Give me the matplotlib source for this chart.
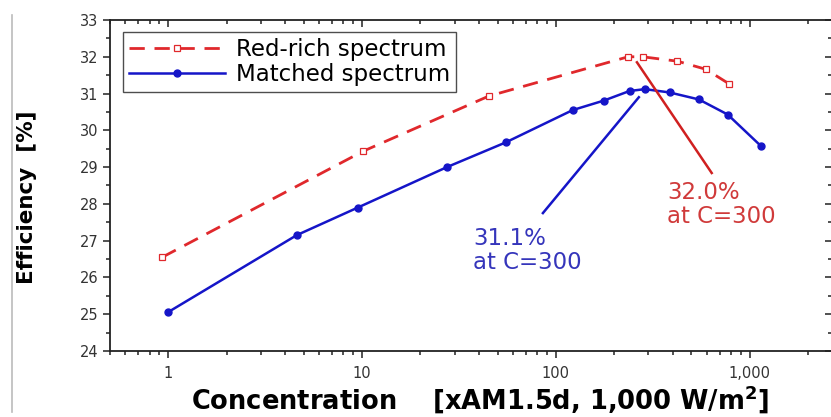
import matplotlib
matplotlib.use("Agg")
import matplotlib.pyplot as plt
from matplotlib.ticker import FixedLocator, FixedFormatter, LogLocator, NullFormatter, MultipleLocator
from matplotlib.lines import Line2D

# Data
red_x = [0.93, 10.1, 45, 236, 280, 424, 594, 780]
red_y = [26.55, 29.43, 30.93, 32.0, 32.0, 31.88, 31.66, 31.27]
blue_x = [1.0, 4.6, 9.5, 27.4, 55, 122, 177, 240, 288, 386, 547, 770, 1140]
blue_y = [25.06, 27.15, 27.9, 29.0, 29.67, 30.55, 30.81, 31.07, 31.12, 31.03, 30.84, 30.43, 29.58]
x_ticks = [1, 10, 100, 1000]
x_tick_labels = ["1", "10", "100", "1,000"]
y_ticks = [24, 25, 26, 27, 28, 29, 30, 31, 32, 33]
red_label = "Red-rich spectrum"
blue_label = "Matched spectrum"
red_note = "32.0%\nat C=300"
blue_note = "31.1%\nat C=300"
red_leader_x = [262, 637]
red_leader_y = [31.85, 28.84]
blue_leader_x = [268, 85.7]
blue_leader_y = [30.90, 27.75]

plt.rcParams['font.family'] = ['DejaVu Sans']
fig = plt.figure(figsize=(8.31, 4.17), dpi=100)
ax = fig.add_axes([110/831, 1-351/417, 722/831, 331/417])

ax.plot(red_x, red_y, color='#e0282c', lw=2.0, dashes=(5.5, 3.5),
        marker='s', ms=4.5, mfc='white', mec='#e0282c', mew=0.9, label=red_label)
ax.plot(blue_x, blue_y, color='#1515c8', lw=1.8, marker='o', ms=5,
        mfc='#1515c8', mec='#1515c8', label=blue_label)

ax.set_xscale('log')
ax.set_xlim(0.5, 2660)
ax.set_ylim(24, 33)
ax.xaxis.set_major_locator(FixedLocator(x_ticks))
ax.xaxis.set_major_formatter(FixedFormatter(x_tick_labels))
ax.xaxis.set_minor_locator(LogLocator(base=10, subs=range(2, 10)))
ax.xaxis.set_minor_formatter(NullFormatter())
ax.yaxis.set_major_locator(FixedLocator(y_ticks))
ax.yaxis.set_minor_locator(MultipleLocator(0.5))

ax.tick_params(which='both', top=True, right=True, labelsize=10.5, color='#222222', labelcolor='#333333')
ax.tick_params(which='major', length=5, width=1.1)
ax.tick_params(which='minor', length=3, width=1.1)
ax.tick_params(axis='x', which='both', direction='out', pad=6)
ax.tick_params(axis='y', which='both', direction='out')
# top and right ticks point inward
for t in ax.xaxis.get_major_ticks() + ax.xaxis.get_minor_ticks():
    t.tick2line.set_marker(3)  # TICKDOWN
for t in ax.yaxis.get_major_ticks() + ax.yaxis.get_minor_ticks():
    t.tick2line.set_marker(0)  # TICKLEFT
for s in ax.spines.values():
    s.set_linewidth(1.3)
    s.set_color('#222222')

ax.set_ylabel("Efficiency  [%]", fontsize=15.5, fontweight='bold')
ax.yaxis.set_label_coords(-0.101, 0.465)
ax.set_xlabel("Concentration    [xAM1.5d, 1,000 W/m$^\\mathbf{2}$]", fontsize=18.5, fontweight='bold')
ax.xaxis.set_label_coords(0.512, -0.1)

leg = ax.legend(loc='upper left', bbox_to_anchor=(0.018, 0.963), fontsize=16.5, frameon=True,
                fancybox=False, edgecolor='#222222', handlelength=4.2, borderpad=0.25,
                labelspacing=0.1, handletextpad=0.5, borderaxespad=0)
leg.get_frame().set_linewidth(1.0)

# Annotations
ax.plot(red_leader_x, red_leader_y, color='#d02020', lw=1.8)
ax.plot(blue_leader_x, blue_leader_y, color='#1515c8', lw=1.8)
ax.text(375, 28.62, red_note, color='#d03a3a', fontsize=16.5, ha='left', va='top', linespacing=1.05)
ax.text(37.5, 27.38, blue_note, color='#3535bb', fontsize=16.5, ha='left', va='top', linespacing=1.05)

fig.add_artist(Line2D([12/831, 12/831], [1-15/417, 1-412/417], transform=fig.transFigure,
                      color='#bbbbbb', lw=1.2))

fig.savefig("out.png", dpi=100)
